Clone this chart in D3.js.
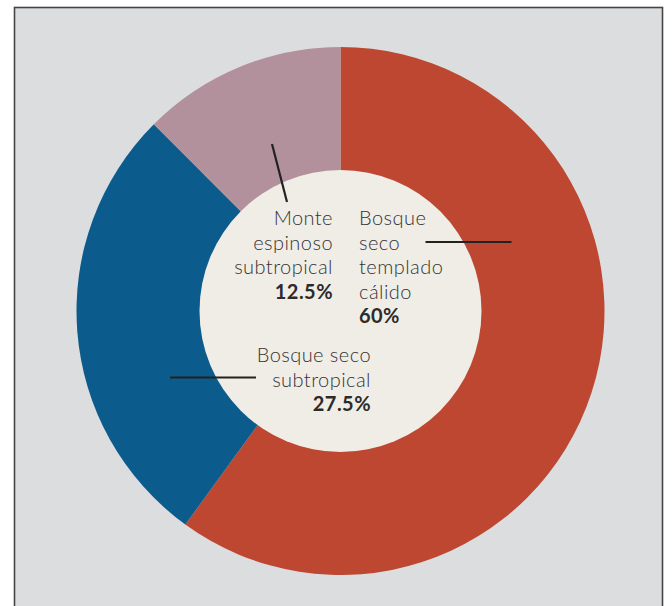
<!DOCTYPE html>
<html>
<head>
<meta charset="utf-8">
<script src="https://cdn.jsdelivr.net/npm/d3@7"></script>
<style>
  body { margin: 0; background: #fff; }
  svg { display: block; }
  .lbl { font-family: Lato, "Noto Sans", sans-serif; font-size: 20px; font-weight: 300; fill: #333; letter-spacing: 0.45px; }
  .pct { font-weight: 700; fill: #2b2b2b; }
</style>
</head>
<body>
<div id="chart"></div>
<script>
// chart data
const categories = ["Bosque seco templado cálido", "Bosque seco subtropical", "Monte espinoso subtropical"];
const values = [60, 27.5, 12.5];
const labelLines = [
  ["Bosque", "seco", "templado", "cálido"],
  ["Bosque seco", "subtropical"],
  ["Monte", "espinoso", "subtropical"]
];
const pctLabels = ["60%", "27.5%", "12.5%"];
const colors = ["#bd4731", "#0b5b8c", "#b3919c"];

const width = 672, height = 606;
const cx = 340.5, cy = 311;
const outerR = 264, innerR = 141;

// label layout, offsets from the centre
const layout = [
  { anchor: "start", x: 18.5, y: -86, line: [[85, -69], [171, -69]] },
  { anchor: "end", x: 30.5, y: 51, line: [[-170.5, 66.5], [-84.5, 66.5]] },
  { anchor: "end", x: -7.5, y: -86, line: [[-68.5, -167], [-53.5, -109]] }
];
const lineHeight = 24.5;

const svg = d3.select("#chart").append("svg")
  .attr("width", width)
  .attr("height", height);

// frame
svg.append("rect")
  .attr("x", 14.5).attr("y", 7.5)
  .attr("width", 648).attr("height", 620)
  .attr("fill", "#dcdddf")
  .attr("stroke", "#454545")
  .attr("stroke-width", 1.6);

const g = svg.append("g").attr("transform", `translate(${cx},${cy})`);

const pie = d3.pie().sort(null).value(d => d);
const arcs = pie(values);

const arc = d3.arc().innerRadius(0).outerRadius(outerR);

g.selectAll("path.slice")
  .data(arcs)
  .enter()
  .append("path")
  .attr("class", "slice")
  .attr("d", arc)
  .attr("fill", (d, i) => colors[i]);

// hole
g.append("circle")
  .attr("r", innerR)
  .attr("fill", "#f0ede7");

// leader lines
g.selectAll("line.leader")
  .data(layout)
  .enter()
  .append("line")
  .attr("class", "leader")
  .attr("x1", d => d.line[0][0]).attr("y1", d => d.line[0][1])
  .attr("x2", d => d.line[1][0]).attr("y2", d => d.line[1][1])
  .attr("stroke", "#222")
  .attr("stroke-width", 2.2);

// labels
categories.forEach((c, i) => {
  const l = layout[i];
  const t = g.append("text")
    .attr("class", "lbl")
    .attr("text-anchor", l.anchor)
    .attr("x", l.x).attr("y", l.y);
  const parts = labelLines[i].concat([pctLabels[i]]);
  parts.forEach((p, j) => {
    t.append("tspan")
      .attr("x", l.x)
      .attr("dy", j === 0 ? 0 : lineHeight)
      .attr("class", j === parts.length - 1 ? "pct" : null)
      .text(p);
  });
});
</script>
</body>
</html>
